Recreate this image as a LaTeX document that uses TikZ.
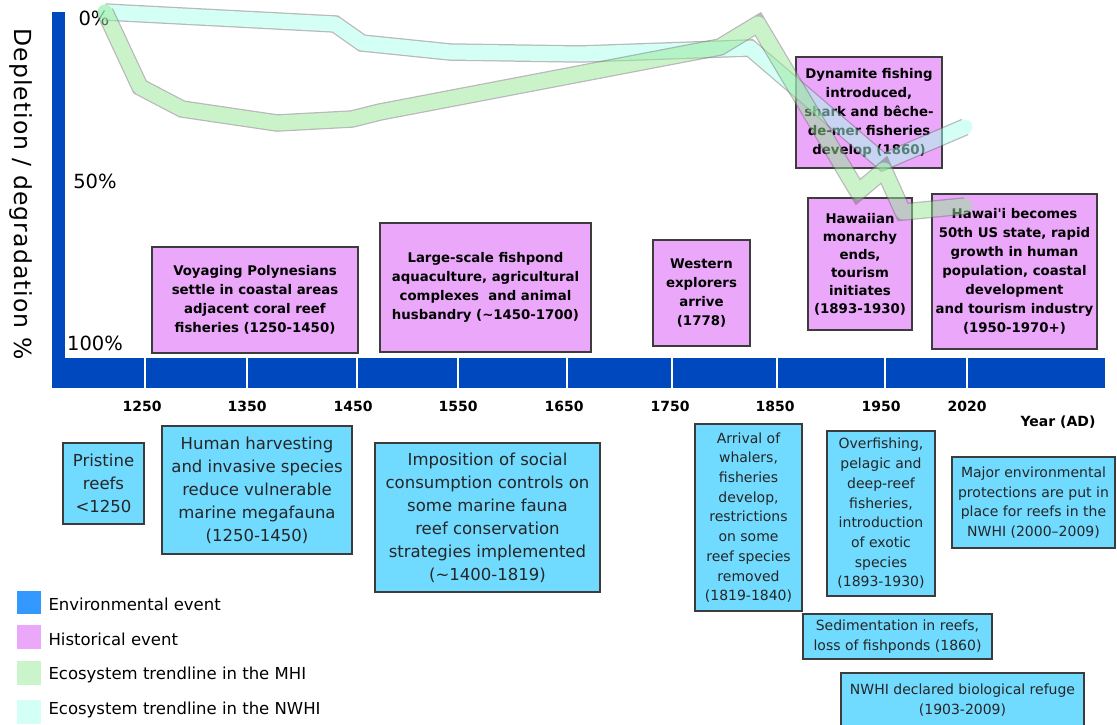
\documentclass[tikz,border=0pt]{standalone}
\usepackage{fontspec}
\setmainfont{DejaVu Sans}
\definecolor{axisblue}{RGB}{0,72,190}
\definecolor{histpink}{RGB}{235,168,250}
\definecolor{envblue}{RGB}{112,218,255}
\definecolor{legblue}{RGB}{51,153,255}
\definecolor{mhigreen}{RGB}{150,232,150}
\definecolor{nwhicyan}{RGB}{168,255,236}
\definecolor{boxline}{RGB}{60,60,60}
\begin{document}
\begin{tikzpicture}[x=1pt,y=-1pt,
  histbox/.style={draw=boxline, line width=1.2pt, fill=histpink, align=center, inner sep=0pt,
    font=\fontsize{13.3}{19}\selectfont\bfseries},
  envbox/.style={draw=boxline, line width=1.2pt, fill=envblue, align=center, inner sep=0pt,
    text=black!85, font=\fontsize{16.5}{23}\selectfont},
  envsmall/.style={envbox, font=\fontsize{14}{19.7}\selectfont},
  yearlbl/.style={font=\fontsize{14}{16}\selectfont\bfseries},
  pctlbl/.style={font=\fontsize{19.5}{20}\selectfont},
  legtext/.style={anchor=west, font=\fontsize{16.5}{18}\selectfont},
  trend/.style={line width=15pt, line join=round, line cap=round,
    preaction={draw=black!55, line width=17.5pt}}]
  \useasboundingbox (0,0) rectangle (1117,724);
  % Draw axes
  \fill[axisblue] (52,12) rectangle (65,388);
  \foreach \a/\b in {52/144,146/246,248/356,358/457,459/566,568/671,673/776,778/884,886/966,968/1105}
    \fill[axisblue] (\a,358) rectangle (\b,388);
  \foreach \x/\yr in {142/1250,247/1350,353/1450,458/1550,564/1650,670/1750,775/1850,881/1950,967/2020}
    \node[yearlbl] (yr\yr) at (\x,406) {\yr};
  \node[yearlbl] (yearax) at (1058,422) {Year (AD)};
  \node[pctlbl] (pct0) at (94,18) {0\%};
  \node[pctlbl] (pct50) at (95,181) {50\%};
  \node[pctlbl] (pct100) at (95,343) {100\%};
  \node[rotate=-90, font=\fontsize{23.5}{25}\selectfont\addfontfeature{LetterSpace=4.5}] (ylabel) at (21,194)
    {Depletion / degradation \%};
  % Historical events
  \node[histbox, minimum width=206pt, minimum height=106pt] (voyage) at (255,300)
    {Voyaging Polynesians\\settle in coastal areas\\adjacent coral reef\\fisheries (1250-1450)};
  \node[histbox, minimum width=211pt, minimum height=129pt] (fishpond) at (485.5,287.5)
    {Large-scale fishpond\\aquaculture, agricultural\\complexes\ \ and animal\\husbandry (\textasciitilde1450-1700)};
  \node[histbox, minimum width=97pt, minimum height=106pt] (western) at (701.5,293)
    {Western\\explorers\\arrive\\(1778)};
  \node[histbox, minimum width=146pt, minimum height=111pt] (dynamite) at (869,112.5)
    {Dynamite fishing\\introduced,\\shark and bêche-\\de-mer fisheries\\develop (1860)};
  \node[histbox, minimum width=104pt, minimum height=132pt, font=\fontsize{13.3}{18}\selectfont\bfseries] (monarchy) at (860,264)
    {Hawaiian\\monarchy\\ends,\\tourism\\initiates\\(1893-1930)};
  \node[histbox, minimum width=165pt, minimum height=155pt] (statehood) at (1014.5,271.5)
    {Hawai\textquotesingle i becomes\\50th US state, rapid\\growth in human\\population, coastal\\development\\and tourism industry\\(1950-1970+)};
  % Environmental events
  \node[envbox, minimum width=81pt, minimum height=81pt] (pristine) at (103.5,483.5)
    {Pristine\\reefs\\<1250};
  \node[envbox, minimum width=190pt, minimum height=128pt] (harvest) at (257,490)
    {Human harvesting\\and invasive species\\reduce vulnerable\\marine megafauna\\(1250-1450)};
  \node[envbox, minimum width=225pt, minimum height=149pt] (imposition) at (487.5,517.5)
    {Imposition of social\\consumption controls on\\some marine fauna\\reef conservation\\strategies implemented\\(\textasciitilde1400-1819)};
  \node[envsmall, minimum width=107pt, minimum height=187pt] (whalers) at (748.5,517.5)
    {Arrival of\\whalers,\\fisheries\\develop,\\restrictions\\on some\\reef species\\removed\\(1819-1840)};
  \node[envsmall, minimum width=108pt, minimum height=165pt] (overfish) at (881,513.5)
    {Overfishing,\\pelagic and\\deep-reef\\fisheries,\\introduction\\of exotic\\species\\(1893-1930)};
  \node[envsmall, minimum width=163pt, minimum height=91pt] (protect) at (1033.5,502.5)
    {Major environmental\\protections are put in\\place for reefs in the\\NWHI (2000--2009)};
  \node[envsmall, minimum width=189pt, minimum height=45pt] (sediment) at (897.5,636.5)
    {Sedimentation in reefs,\\loss of fishponds (1860)};
  \node[envsmall, minimum width=243pt, minimum height=54pt] (refuge) at (962.5,700)
    {NWHI declared biological refuge\\(1903-2009)};
  % Ecosystem trendlines
  \begin{scope}[transparency group, opacity=0.5]
    \draw[trend, nwhicyan] (105,12) -- (335,24) -- (362,43) -- (450,52) -- (580,54) -- (750,48)
      -- (883,162) -- (965,127);
  \end{scope}
  \begin{scope}[transparency group, opacity=0.5]
    \draw[trend, mhigreen] (105,12) -- (140,87) -- (182,109) -- (277,123) -- (352,119) -- (380,112)
      -- (720,47) -- (758,24) -- (858,192) -- (884,170) -- (903,212) -- (965,206);
  \end{scope}
  % Legend
  \fill[legblue] (17,591) rectangle (41,614);
  \fill[histpink] (17,625) rectangle (41,649);
  \fill[mhigreen!50] (17,661) rectangle (41,685);
  \fill[nwhicyan!50] (17,700) rectangle (41,724);
  \node[legtext] (legenv) at (45,604) {Environmental event};
  \node[legtext] (leghist) at (45,639) {Historical event};
  \node[legtext] (legmhi) at (45,675) {Ecosystem trendline in the MHI};
  \node[legtext] (legnwhi) at (45,710) {Ecosystem trendline in the NWHI};
\end{tikzpicture}
\end{document}
